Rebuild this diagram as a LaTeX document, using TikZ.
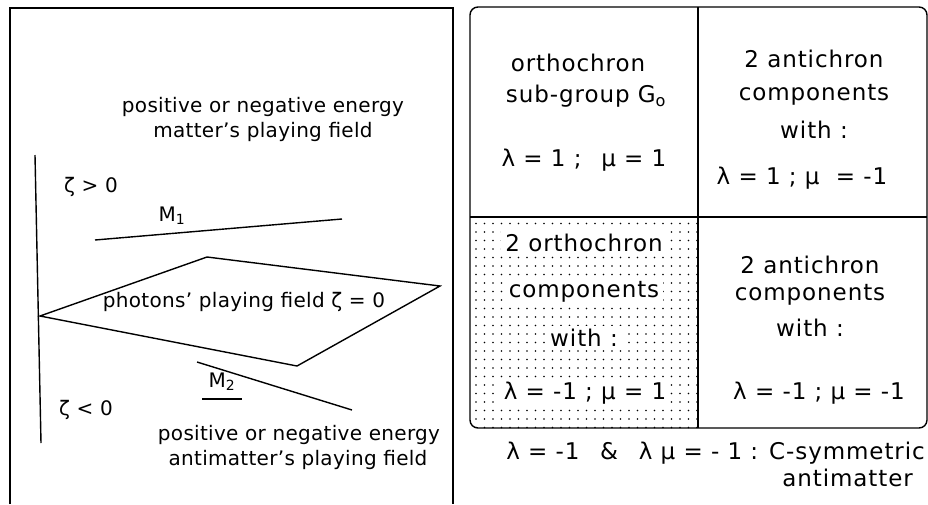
\documentclass[tikz,border=0pt]{standalone}
\usepackage{fontspec}
\setmainfont{DejaVu Sans}
\usetikzlibrary{patterns}
\pgfdeclarepatternformonly{sparsedots}{\pgfqpoint{-1pt}{-1pt}}{\pgfqpoint{9.5pt}{9.5pt}}{\pgfqpoint{8.5pt}{8.5pt}}{%
  \pgfpathcircle{\pgfqpoint{0pt}{0pt}}{0.9pt}\pgfusepath{fill}}
\begin{document}
\begin{tikzpicture}[x=1pt,y=-1pt,
  txt/.style={inner sep=0pt,font=\fontsize{20}{22}\selectfont\addfontfeature{LetterSpace=1.5}},
  rtxt/.style={inner sep=0pt,font=\fontsize{23}{25}\selectfont\addfontfeature{LetterSpace=4}},
  wtxt/.style={rtxt,fill=white,inner xsep=4pt,inner ysep=3pt},
  ln/.style={line width=1.4pt}]
\useasboundingbox (0,0) rectangle (928,504);
% left panel
\draw[ln] (10,504) -- (10,8) -- (453,8) -- (453,504);
\coordinate (vtop) at (35,155);
\coordinate (vbot) at (41,443);
\draw[ln] (vtop) -- (vbot);
\node[txt] (e1) at (263,107) {positive or negative energy};
\node[txt] (e2) at (263,132) {matter's playing field};
\node[txt,anchor=west] (zp) at (64,187) {ζ > 0};
\node[txt] (m1) at (172,216) {M\textsubscript{1}};
\coordinate (m1a) at (95,240);
\coordinate (m1b) at (342,219);
\draw[ln] (m1a) -- (m1b);
\coordinate (dl) at (40,316);
\coordinate (dt) at (207,257);
\coordinate (dr) at (440,286);
\coordinate (db) at (297,366);
\draw[ln] (dl) -- (dt) -- (dr) -- (db) -- cycle;
\node[txt] (ph) at (244,302) {photons' playing field ζ = 0};
\coordinate (m2a) at (197,362);
\coordinate (m2b) at (352,410);
\draw[ln] (m2a) -- (m2b);
\node[txt] (m2) at (222,382) {M\textsubscript{2}};
\coordinate (ula) at (202,399);
\coordinate (ulb) at (242,399);
\draw[ln] (ula) -- (ulb);
\node[txt,anchor=west] (zn) at (59,410) {ζ < 0};
\node[txt] (e3) at (299,435) {positive or negative energy};
\node[txt] (e4) at (298,460) {antimatter's playing field};
% right panel
\fill[pattern=sparsedots] (470,217) rectangle (698,428);
\fill[white] (470,428) -- (478,428) arc[start angle=-90,end angle=-180,radius=8] -- cycle;
\draw[ln,rounded corners=8pt] (470,7) rectangle (927,428);
\draw[ln] (698,7) -- (698,428);
\draw[ln] (470,217) -- (927,217);
\node[rtxt] (a1) at (578,63) {orthochron};
\node[rtxt] (a2) at (586,96) {sub-group G\textsubscript{o}};
\node[rtxt] (a3) at (584,160) {λ = 1 ;\hspace{0.5em} μ = 1};
\node[rtxt] (b1) at (814,59) {2 antichron};
\node[rtxt] (b2) at (814,95) {components};
\node[rtxt] (b3) at (814,130) {with :};
\node[rtxt] (b4) at (802,178) {λ = 1 ; μ \ = -1};
\node[wtxt] (c1) at (584,243) {2 orthochron};
\node[wtxt] (c2) at (584,292) {components};
\node[wtxt] (c3) at (584,338) {with :};
\node[wtxt] (c4) at (585,393) {λ = -1 ; μ = 1};
\node[rtxt] (d1) at (810,265) {2 antichron};
\node[rtxt] (d2) at (810,295) {components};
\node[rtxt] (d3) at (810,328) {with :};
\node[rtxt] (d4) at (819,393) {λ\ = -1 ;\ μ\ = -1};
\node[rtxt,anchor=east] (f1) at (925,453) {λ = -1\hspace{0.9em}\&\hspace{0.9em}λ μ = - 1 : C-symmetric};
\node[rtxt,anchor=east] (f2) at (913,478) {antimatter};
\end{tikzpicture}
\end{document}
